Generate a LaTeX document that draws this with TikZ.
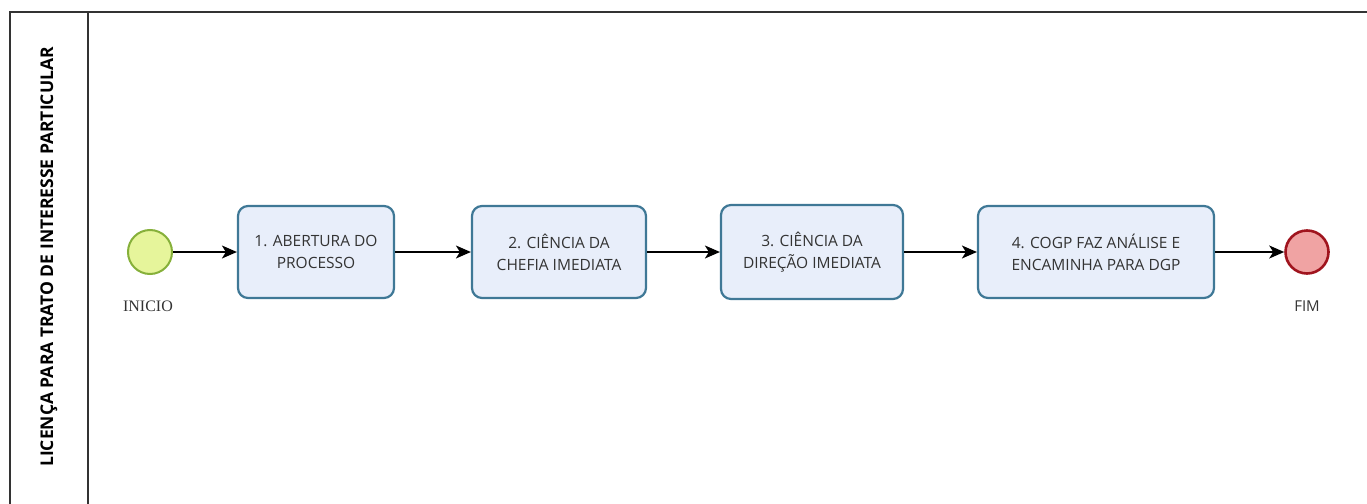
\documentclass[tikz,border=0pt]{standalone}
\usepackage{fontspec}
\setmainfont{Open Sans}
\newfontfamily\serifl{Liberation Serif}
\usetikzlibrary{arrows.meta}
\definecolor{taskfill}{HTML}{E8EEFA}
\definecolor{taskdraw}{HTML}{3F7896}
\definecolor{startfill}{HTML}{E6F59B}
\definecolor{startdraw}{HTML}{86B03A}
\definecolor{endfill}{HTML}{F0A3A3}
\definecolor{enddraw}{HTML}{A0141E}
\definecolor{lanedraw}{HTML}{333333}
\definecolor{txt}{HTML}{333333}
\tikzset{
  task/.style={draw=taskdraw, fill=taskfill, line width=2.2pt, rounded corners=10pt,
    align=center, inner sep=0pt, font=\fontsize{15.5}{22}\selectfont, text=txt},
  startev/.style={circle, draw=startdraw, fill=startfill, line width=2pt, minimum size=44pt, inner sep=0pt},
  endev/.style={circle, draw=enddraw, fill=endfill, line width=2.6pt, minimum size=43pt, inner sep=0pt},
  evlabel/.style={font=\fontsize{15}{16}\selectfont, text=txt},
  flow/.style={-{Stealth[length=15pt,width=13pt,inset=4pt]}, line width=1.4pt, black},
  lane/.style={draw=lanedraw, line width=1.6pt}
}
\begin{document}
\begin{tikzpicture}[x=1pt,y=-1pt]
\useasboundingbox (0,0) rectangle (1367,503);
\begin{scope}
\clip (0,0) rectangle (1367,503);
\draw[lane] (1367,12) -- (10,12) -- (10,510);
\draw[lane] (88,12) -- (88,510);
\end{scope}
\node[rotate=90, font=\fontsize{17.5}{18}\bfseries\selectfont, text=black] (lanelabel) at (49,257) {LICENÇA PARA TRATO DE INTERESSE PARTICULAR};
\node[startev] (inicio) at (150,252) {};
\node[evlabel, font=\serifl\fontsize{16}{17}\selectfont] (inicioL) at (148,306) {INICIO};
\node[task, minimum width=156pt, minimum height=92pt] (t1) at (316,252) {1. ABERTURA DO\\PROCESSO};
\node[task, minimum width=174pt, minimum height=92pt] (t2) at (559,252) {2. CIÊNCIA DA\\CHEFIA IMEDIATA};
\node[task, minimum width=182pt, minimum height=94pt] (t3) at (812,252) {3. CIÊNCIA DA\\DIREÇÃO IMEDIATA};
\node[task, minimum width=236pt, minimum height=92pt] (t4) at (1096,252) {4. COGP FAZ ANÁLISE E\\ENCAMINHA PARA DGP};
\node[endev] (fim) at (1307,252) {};
\node[evlabel] (fimL) at (1307,306) {FIM};
\draw[flow] (inicio) -- (t1);
\draw[flow] (t1) -- (t2);
\draw[flow] (t2) -- (t3);
\draw[flow] (t3) -- (t4);
\draw[flow] (t4) -- (fim);
\end{tikzpicture}
\end{document}
